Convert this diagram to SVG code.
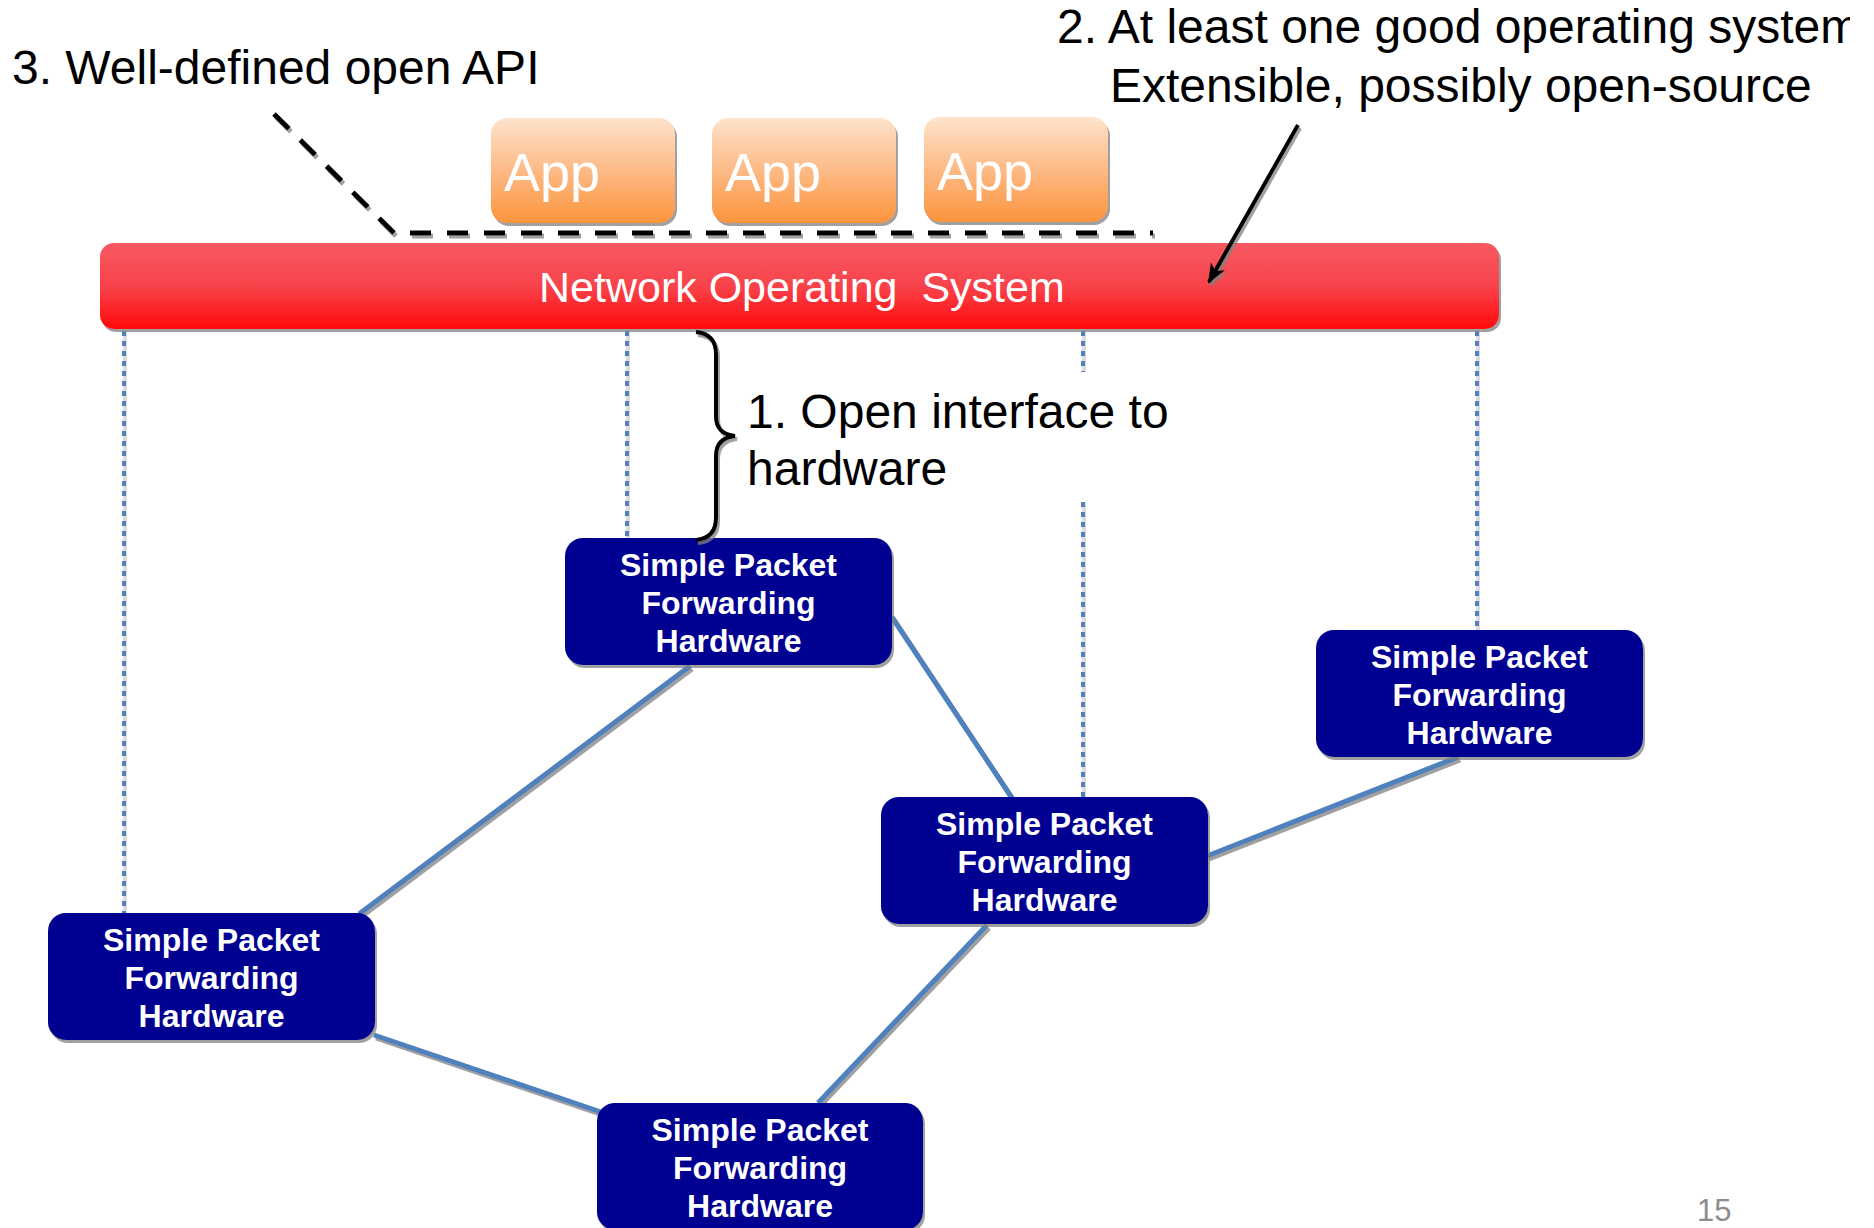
<svg xmlns="http://www.w3.org/2000/svg" width="1874" height="1228" viewBox="0 0 1874 1228">
  <defs>
    <style>
      .note { font-family: "Liberation Sans", Arial, sans-serif; font-size: 48px; fill: #000000; }
      .app-box { fill: url(#appGrad); filter: url(#shadow); }
      .app-label { font-family: "Liberation Sans", Arial, sans-serif; font-size: 54px; fill: #ffffff; }
      .nos-label { font-family: "Liberation Sans", Arial, sans-serif; font-size: 43px; fill: #ffffff; }
      .hw-box { fill: #000091; filter: url(#shadow); }
      .hw-label { font-family: "Liberation Sans", Arial, sans-serif; font-size: 32px; font-weight: bold; fill: #ffffff; text-anchor: middle; }
      .link { stroke: #4F81BD; stroke-width: 5; fill: none; filter: url(#shadow); }
      .ctl-bg { stroke: #c4c4c4; stroke-width: 4; fill: none; }
      .ctl { stroke: #4F81BD; stroke-width: 4; stroke-dasharray: 5 5; fill: none; }
      .api { stroke: #000000; stroke-width: 5; stroke-dasharray: 21 16; fill: none; filter: url(#shadow); }
      .page { font-family: "Liberation Sans", Arial, sans-serif; font-size: 31px; fill: #8c8c8c; }
    </style>
    <linearGradient id="appGrad" x1="0" y1="0" x2="0" y2="1">
      <stop offset="0" stop-color="#FEE3CC"/>
      <stop offset="0.55" stop-color="#FDB67E"/>
      <stop offset="1" stop-color="#FB943C"/>
    </linearGradient>
    <linearGradient id="nosGrad" x1="0" y1="0" x2="0" y2="1">
      <stop offset="0" stop-color="#F65A62"/>
      <stop offset="0.5" stop-color="#F8434B"/>
      <stop offset="1" stop-color="#FF0A0A"/>
    </linearGradient>
    <filter id="shadow" x="-10%" y="-10%" width="120%" height="130%">
      <feDropShadow dx="2" dy="3" stdDeviation="0.7" flood-color="#808080" flood-opacity="0.75"/>
    </filter>
    <clipPath id="slideEdge">
      <rect x="0" y="0" width="1850" height="1228"/>
    </clipPath>
    <marker id="arrowHead" markerUnits="userSpaceOnUse" markerWidth="22" markerHeight="18" refX="18" refY="9" orient="auto">
      <path d="M0,1 L20,9 L0,17 L5,9 z" fill="#000000"/>
    </marker>
  </defs>

  <!-- control channels from the operating system down to each switch -->
  <g id="control-links">
    <path class="ctl-bg" d="M125,331 V913 M628,331 V538 M1084,331 V372 M1084,502 V797 M1478,331 V630" opacity="0.6"/>
    <path class="ctl" d="M124,331 V913 M627,331 V538 M1083,331 V372 M1083,502 V797 M1477,331 V630"/>
  </g>

  <!-- physical links between switches -->
  <g id="connectors">
    <line class="link" x1="690" y1="666" x2="359" y2="914"/>
    <line class="link" x1="892" y1="617" x2="1012" y2="798"/>
    <line class="link" x1="1458" y1="757" x2="1207" y2="856"/>
    <line class="link" x1="987" y1="925" x2="818" y2="1103"/>
    <line class="link" x1="374" y1="1035" x2="601" y2="1112"/>
  </g>

  <!-- applications -->
  <g id="app-1">
    <rect class="app-box" x="491" y="118" width="184" height="105" rx="16"/>
    <text class="app-label" x="504" y="191">App</text>
  </g>
  <g id="app-2">
    <rect class="app-box" x="712" y="118" width="184" height="105" rx="16"/>
    <text class="app-label" x="725" y="191">App</text>
  </g>
  <g id="app-3">
    <rect class="app-box" x="924" y="117" width="184" height="105" rx="16"/>
    <text class="app-label" x="937" y="190">App</text>
  </g>

  <!-- northbound API boundary -->
  <g id="api-line">
    <path class="api" d="M274,114 L394,233 L1153,233"/>
  </g>

  <!-- network operating system bar -->
  <g id="nos">
    <rect x="100" y="243" width="1399" height="86" rx="14" fill="url(#nosGrad)" filter="url(#shadow)"/>
    <text class="nos-label" x="539" y="302" xml:space="preserve">Network Operating  System</text>
  </g>

  <!-- forwarding elements -->
  <g id="switch-a">
    <rect class="hw-box" x="565" y="538" width="327" height="127" rx="18"/>
    <text class="hw-label" x="728.5" y="576">Simple Packet</text>
    <text class="hw-label" x="728.5" y="614">Forwarding</text>
    <text class="hw-label" x="728.5" y="652">Hardware</text>
  </g>
  <g id="switch-b">
    <rect class="hw-box" x="1316" y="630" width="327" height="127" rx="18"/>
    <text class="hw-label" x="1479.5" y="668">Simple Packet</text>
    <text class="hw-label" x="1479.5" y="706">Forwarding</text>
    <text class="hw-label" x="1479.5" y="744">Hardware</text>
  </g>
  <g id="switch-c">
    <rect class="hw-box" x="881" y="797" width="327" height="127" rx="18"/>
    <text class="hw-label" x="1044.5" y="835">Simple Packet</text>
    <text class="hw-label" x="1044.5" y="873">Forwarding</text>
    <text class="hw-label" x="1044.5" y="911">Hardware</text>
  </g>
  <g id="switch-d">
    <rect class="hw-box" x="48" y="913" width="327" height="127" rx="18"/>
    <text class="hw-label" x="211.5" y="951">Simple Packet</text>
    <text class="hw-label" x="211.5" y="989">Forwarding</text>
    <text class="hw-label" x="211.5" y="1027">Hardware</text>
  </g>
  <g id="switch-e">
    <rect class="hw-box" x="597" y="1103" width="326" height="127" rx="18"/>
    <text class="hw-label" x="760" y="1141">Simple Packet</text>
    <text class="hw-label" x="760" y="1179">Forwarding</text>
    <text class="hw-label" x="760" y="1217">Hardware</text>
  </g>

  <!-- annotations -->
  <g id="note-api">
    <text class="note" x="12" y="84">3. Well-defined open API</text>
  </g>
  <g id="note-os">
    <text class="note" x="1057" y="43" clip-path="url(#slideEdge)">2. At least one good operating system</text>
    <text class="note" x="1110" y="102">Extensible, possibly open-source</text>
    <line x1="1298" y1="125" x2="1209" y2="282" stroke="#000000" stroke-width="4" marker-end="url(#arrowHead)" filter="url(#shadow)"/>
  </g>
  <g id="note-interface">
    <path d="M696,332 Q716,334 716,354 L716,416 Q716,434 735,436 Q716,438 716,456 L716,518 Q716,538 696,540" fill="none" stroke="#000000" stroke-width="4" filter="url(#shadow)"/>
    <text class="note" x="747" y="428">1. Open interface to</text>
    <text class="note" x="747" y="485">hardware</text>
  </g>

  <text class="page" x="1697" y="1221">15</text>
</svg>
